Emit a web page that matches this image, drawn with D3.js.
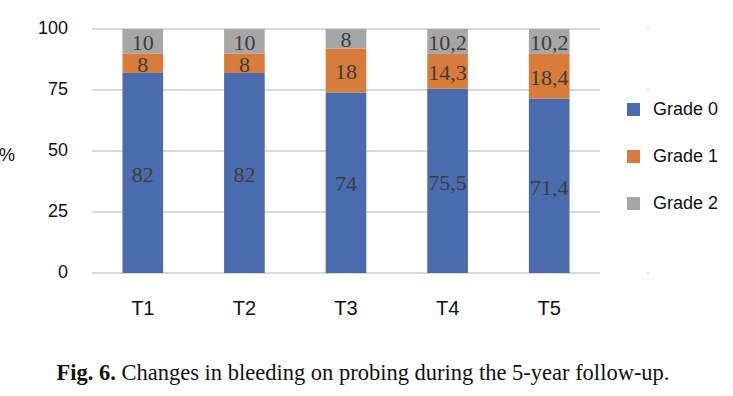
<!DOCTYPE html>
<html>
<head>
<meta charset="utf-8">
<script src="https://cdn.jsdelivr.net/npm/d3@7"></script>
<style>
  html, body { margin: 0; padding: 0; background: #fff; }
  svg { display: block; }
</style>
</head>
<body>
<svg id="chart" width="733" height="396"></svg>
<script>
const categories = ["T1", "T2", "T3", "T4", "T5"];
const grade0 = [82, 82, 74, 75.5, 71.4];
const grade1 = [8, 8, 18, 14.3, 18.4];
const grade2 = [10, 10, 8, 10.2, 10.2];
const seriesNames = ["Grade 0", "Grade 1", "Grade 2"];
const yTicks = [0, 25, 50, 75, 100];
const captionBold = "Fig. 6.";
const captionText = " Changes in bleeding on probing during the 5-year follow-up.";

const colors = ["#4a6cae", "#d87c3c", "#a6a6a6"];
const svg = d3.select("#chart");

const x = d3.scaleBand().domain(categories).range([92, 600]).paddingInner(0.6).paddingOuter(0.3);
const y = d3.scaleLinear().domain([0, 100]).range([273, 29]);

// gridlines
svg.append("g").selectAll("line").data(yTicks).join("line")
  .attr("x1", 92).attr("x2", 600)
  .attr("y1", d => y(d)).attr("y2", d => y(d))
  .attr("stroke", "#d9d9d9").attr("stroke-width", 2);

// y tick labels
svg.append("g").selectAll("text").data(yTicks).join("text")
  .attr("x", 68).attr("y", d => y(d) - 1).attr("dy", "0.35em")
  .attr("text-anchor", "end")
  .attr("font-family", "Liberation Sans, Arial, sans-serif")
  .attr("font-size", 18).attr("fill", "#111")
  .text(d => d);

svg.append("text").attr("x", -1).attr("y", y(50) + 4).attr("dy", "0.35em")
  .attr("font-family", "Liberation Sans, Arial, sans-serif")
  .attr("font-size", 18).attr("fill", "#111").text("%");

// x labels
svg.append("g").selectAll("text").data(categories).join("text")
  .attr("x", d => x(d) + x.bandwidth() / 2).attr("y", 315)
  .attr("text-anchor", "middle")
  .attr("font-family", "Liberation Sans, Arial, sans-serif")
  .attr("font-size", 20).attr("fill", "#111")
  .text(d => d);

// stacked data
const rows = categories.map((c, i) => ({ cat: c, "Grade 0": grade0[i], "Grade 1": grade1[i], "Grade 2": grade2[i] }));
const stack = d3.stack().keys(seriesNames)(rows);

const fmt = v => String(v).replace(".", ",");

stack.forEach((layer, li) => {
  const g = svg.append("g");
  g.selectAll("rect").data(layer).join("rect")
    .attr("x", d => x(d.data.cat))
    .attr("width", x.bandwidth())
    .attr("y", d => y(d[1]))
    .attr("height", d => y(d[0]) - y(d[1]))
    .attr("fill", colors[li]);
  g.selectAll("text").data(layer).join("text")
    .attr("x", d => x(d.data.cat) + x.bandwidth() / 2)
    .attr("y", d => (y(d[0]) + y(d[1])) / 2 + 1)
    .attr("dy", "0.35em")
    .attr("text-anchor", "middle")
    .attr("font-family", "Liberation Serif, Times New Roman, serif")
    .attr("font-size", 22).attr("fill", "#3d3d3d")
    .text(d => fmt(d.data[layer.key]));
});

// legend
const lg = svg.append("g");
seriesNames.forEach((s, i) => {
  const ly = 109 + i * 47;
  lg.append("rect").attr("x", 627).attr("y", ly - 6).attr("width", 13).attr("height", 13).attr("fill", colors[i]);
  lg.append("text").attr("x", 653).attr("y", ly).attr("dy", "0.35em")
    .attr("font-family", "Liberation Sans, Arial, sans-serif")
    .attr("font-size", 18).attr("fill", "#111").text(s);
});

// faint border specks
svg.append("g").selectAll("rect").data([100, 75, 0]).join("rect")
  .attr("x", 647).attr("y", d => y(d) - 1).attr("width", 2).attr("height", 2).attr("fill", "#e3e3e3");

// caption
const cap = svg.append("text").attr("x", 363).attr("y", 380).attr("text-anchor", "middle")
  .attr("font-family", "Liberation Serif, Times New Roman, serif")
  .attr("font-size", 22.5).attr("fill", "#111");
cap.append("tspan").attr("font-weight", "bold").text(captionBold);
cap.append("tspan").text(captionText);
</script>
</body>
</html>
